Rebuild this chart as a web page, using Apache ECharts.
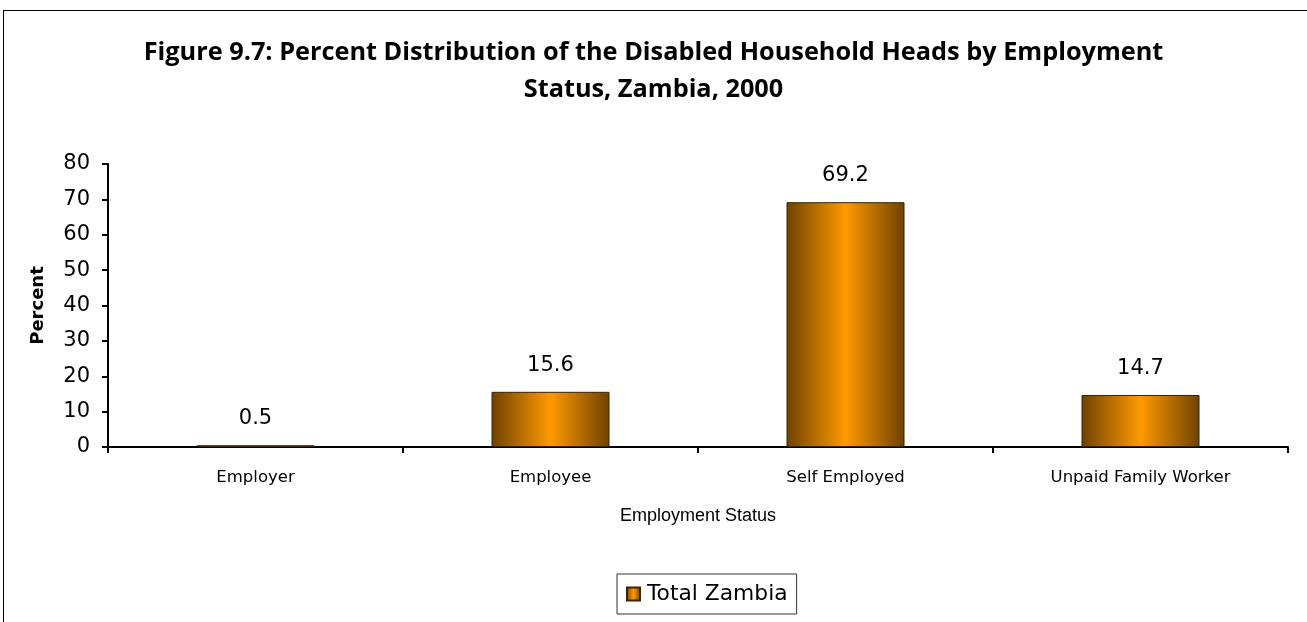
<!DOCTYPE html>
<html><head><meta charset="utf-8">
<script src="https://cdn.jsdelivr.net/npm/echarts@6/dist/echarts.min.js"></script>
<style>html,body{margin:0;padding:0;background:#fff}#c{width:1307px;height:622px}</style>
</head><body><div id="c"></div>
<script>
const categories = ['Employer', 'Employee', 'Self Employed', 'Unpaid Family Worker'];
const totalZambia = [0.5, 15.6, 69.2, 14.7];
const yTicks = [0, 10, 20, 30, 40, 50, 60, 70, 80];

const grad = new echarts.graphic.LinearGradient(0, 0, 1, 0, [
  {offset: 0, color: '#6e4200'},
  {offset: 0.5, color: '#ff9900'},
  {offset: 1, color: '#6e4200'}
]);
const chart = echarts.init(document.getElementById('c'), null, {renderer: 'canvas'});
chart.setOption({
  animation: false,
  title: {
    text: 'Figure 9.7: Percent Distribution of the Disabled Household Heads by Employment\nStatus, Zambia, 2000',
    left: 'center', top: 29,
    textStyle: {fontFamily: 'Open Sans', fontWeight: 'bold', fontSize: 25.3, lineHeight: 37, color: '#000'}
  },
  graphic: [
    {type: 'line', shape: {x1: 3, y1: 10.5, x2: 1307, y2: 10.5}, style: {stroke: '#000', lineWidth: 1}},
    {type: 'line', shape: {x1: 3.5, y1: 10, x2: 3.5, y2: 622}, style: {stroke: '#000', lineWidth: 1}}
  ],
  legend: {
    data: [{name: 'Total Zambia', icon: 'rect'}], left: 617, top: 574,
    itemWidth: 13, itemHeight: 13, itemGap: 5,
    borderColor: '#333', borderWidth: 1, padding: [9, 9, 9, 9],
    textStyle: {fontFamily: 'DejaVu Sans', fontSize: 21.8, color: '#000', padding: [0, 0, 0, 2]}
  },
  grid: {left: 108, right: 19, top: 164, bottom: 175, containLabel: false},
  xAxis: {
    type: 'category', data: categories,
    name: 'Employment Status', nameLocation: 'middle', nameGap: 60,
    nameTextStyle: {fontFamily: 'Liberation Sans', fontSize: 18, color: '#000'},
    axisLine: {lineStyle: {color: '#000', width: 2}},
    axisTick: {show: true, alignWithLabel: false, length: 6, lineStyle: {color: '#000', width: 2}},
    axisLabel: {fontFamily: 'DejaVu Sans', fontSize: 16.5, color: '#000', margin: 22}
  },
  yAxis: {
    type: 'value', min: 0, max: 80, interval: 10,
    name: 'Percent', nameLocation: 'middle', nameGap: 61, nameRotate: 90,
    nameTextStyle: {fontFamily: 'DejaVu Sans', fontWeight: 'bold', fontSize: 18, color: '#000'},
    splitLine: {show: false},
    axisLine: {show: true, lineStyle: {color: '#000', width: 2}},
    axisTick: {show: true, length: 6, lineStyle: {color: '#000', width: 2}},
    axisLabel: {fontFamily: 'DejaVu Sans', fontSize: 21, color: '#000', margin: 18,
      formatter: v => yTicks.includes(v) ? String(v) : ''}
  },
  series: [{
    name: 'Total Zambia', type: 'bar', data: totalZambia, barWidth: '40%',
    itemStyle: {color: grad, borderColor: '#3a2200', borderWidth: 1},
    label: {show: true, position: 'top', distance: 16, fontFamily: 'DejaVu Sans', fontSize: 21, color: '#000'}
  }]
});
</script></body></html>
